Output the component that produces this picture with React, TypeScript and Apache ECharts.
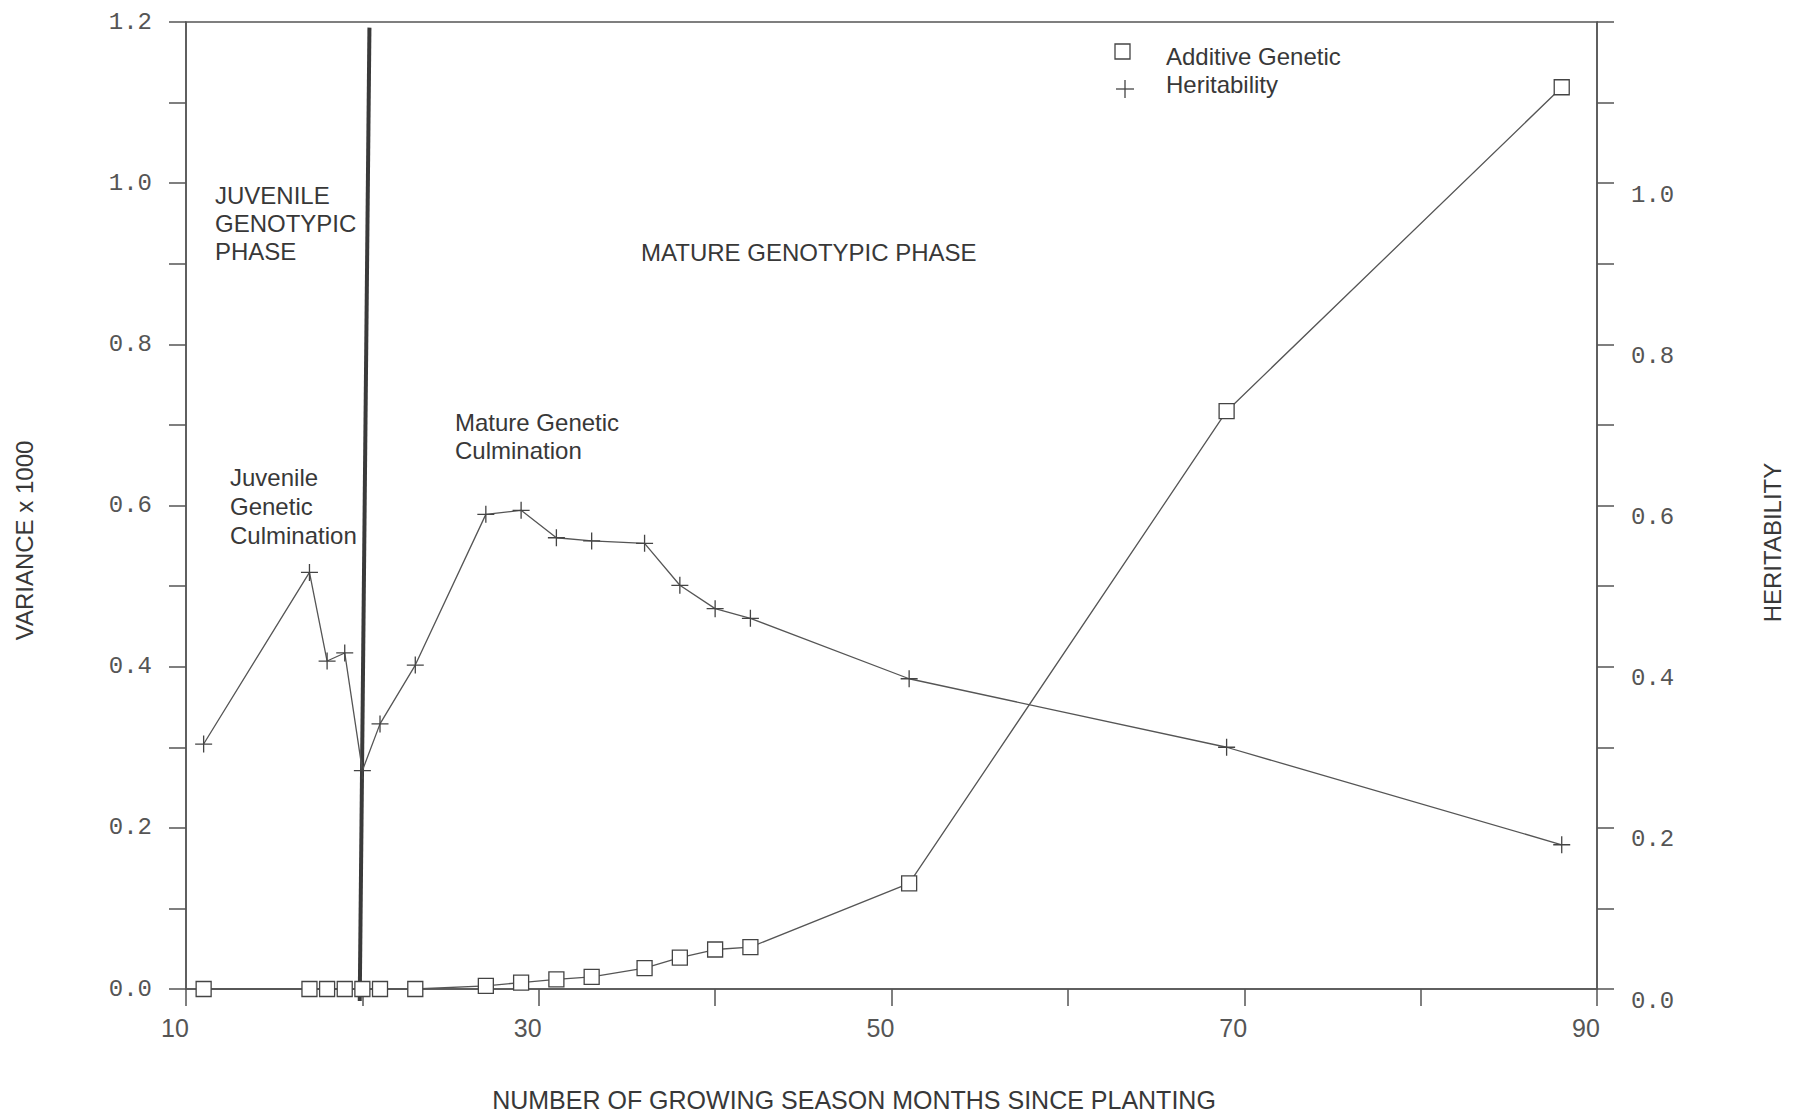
import React, { useEffect, useRef } from "react";
import * as echarts from "echarts";

// Growing season months since planting (x)
const months = [11, 17, 18, 19, 20, 21, 23, 27, 29, 31, 33, 36, 38, 40, 42, 51, 69, 88];
// Additive genetic variance x 1000 (left axis)
const additiveGenetic = [0, 0, 0, 0, 0, 0, 0, 0.004, 0.008, 0.012, 0.015, 0.026, 0.039, 0.049, 0.052, 0.131, 0.717, 1.119];
// Heritability (right axis)
const heritability = [0.304, 0.517, 0.407, 0.417, 0.271, 0.329, 0.402, 0.589, 0.594, 0.56, 0.556, 0.553, 0.501, 0.472, 0.46, 0.385, 0.3, 0.179];

const xLabelValues = [10, 30, 50, 70, 90];
const leftLabelValues = [0, 0.2, 0.4, 0.6, 0.8, 1.0, 1.2];
const rightLabelValues = [0, 0.2, 0.4, 0.6, 0.8, 1.0];

// Phase boundary (thick vertical line): top end, bottom end as [x, y]
const phaseBoundaryTop = [20.4, 1.193];
const phaseBoundaryBottom = [19.85, -0.015];

const seriesNames = ["Additive Genetic", "Heritability"];

const INK = "#383838";
const LINE = "#555";
const SANS = "Liberation Sans, Arial, sans-serif";
const MONO = "Liberation Mono, DejaVu Sans Mono, monospace";

const near = (arr: number[], v: number) => arr.some((a) => Math.abs(a - v) < 1e-6);

export default function App() {
  const ref = useRef<HTMLDivElement>(null);

  useEffect(() => {
    if (!ref.current) return;
    const chart = echarts.init(ref.current, null, { renderer: "svg" });

    const axisLineStyle = { color: LINE, width: 1.5 };

    const option: any = {
      animation: false,
      backgroundColor: "#ffffff",
      grid: {
        left: 186,
        right: 201,
        top: 22,
        bottom: 123,
        show: true,
        borderColor: LINE,
        borderWidth: 1.5,
        backgroundColor: "transparent",
      },
      xAxis: {
        type: "value",
        min: 10,
        max: 90,
        interval: 10,
        axisLine: { show: true, onZero: false, lineStyle: axisLineStyle },
        axisTick: { show: true, inside: false, length: 17, lineStyle: axisLineStyle },
        splitLine: { show: false },
        axisLabel: {
          margin: 26,
          fontSize: 25,
          fontFamily: SANS,
          color: LINE,
          padding: [0, 22, 0, 0],
          formatter: (v: number) => (near(xLabelValues, v) ? String(v) : ""),
        },
        name: "NUMBER OF GROWING SEASON MONTHS SINCE PLANTING",
        nameLocation: "middle",
        nameGap: 98,
        nameTextStyle: {
          fontSize: 25,
          fontFamily: SANS,
          color: INK,
          padding: [0, 75, 0, 0],
        },
      },
      yAxis: [
        {
          type: "value",
          min: 0,
          max: 1.2,
          interval: 0.1,
          position: "left",
          axisLine: { show: true, onZero: false, lineStyle: axisLineStyle },
          axisTick: { show: true, inside: false, length: 17, lineStyle: axisLineStyle },
          splitLine: { show: false },
          axisLabel: {
            margin: 34,
            fontSize: 24,
            fontFamily: MONO,
            color: LINE,
            formatter: (v: number) => (near(leftLabelValues, v) ? v.toFixed(1) : ""),
          },
          name: "VARIANCE x 1000",
          nameLocation: "middle",
          nameGap: 150,
          nameTextStyle: {
            fontSize: 24,
            fontFamily: SANS,
            color: INK,
            padding: [0, 70, 0, 0],
          },
        },
        {
          type: "value",
          min: 0,
          max: 1.2,
          interval: 0.1,
          position: "right",
          axisLine: { show: true, onZero: false, lineStyle: axisLineStyle },
          axisTick: { show: true, inside: false, length: 17, lineStyle: axisLineStyle },
          splitLine: { show: false },
          axisLabel: {
            margin: 34,
            fontSize: 24,
            fontFamily: MONO,
            color: LINE,
            verticalAlign: "top",
            formatter: (v: number) => (near(rightLabelValues, v) ? v.toFixed(1) : ""),
          },
          name: "HERITABILITY",
          nameLocation: "middle",
          nameGap: 163,
          nameTextStyle: {
            fontSize: 24,
            fontFamily: SANS,
            color: INK,
            padding: [0, 74, 0, 0],
          },
        },
      ],
      series: [
        {
          name: "phase boundary",
          type: "custom",
          coordinateSystem: "cartesian2d",
          xAxisIndex: 0,
          yAxisIndex: 0,
          clip: false,
          silent: true,
          z: 2,
          data: [[phaseBoundaryTop[0], phaseBoundaryTop[1], phaseBoundaryBottom[0], phaseBoundaryBottom[1]]],
          encode: { x: [0, 2], y: [1, 3] },
          renderItem: (_params: any, api: any) => {
            const p1 = api.coord([api.value(0), api.value(1)]);
            const p2 = api.coord([api.value(2), api.value(3)]);
            return {
              type: "line",
              shape: { x1: p1[0], y1: p1[1], x2: p2[0], y2: p2[1] },
              style: { stroke: "#3a3a3a", lineWidth: 4 },
            };
          },
        },
        {
          name: seriesNames[0],
          type: "line",
          yAxisIndex: 0,
          clip: false,
          data: months.map((m, i) => [m, additiveGenetic[i]]),
          symbol: "rect",
          symbolSize: 15,
          itemStyle: { color: "#ffffff", borderColor: "#444", borderWidth: 1.3 },
          lineStyle: { color: LINE, width: 1.3 },
          z: 3,
        },
        {
          name: seriesNames[1],
          type: "line",
          yAxisIndex: 1,
          clip: false,
          data: months.map((m, i) => [m, heritability[i]]),
          symbol: "path://M10,0L10,20M0,10L20,10",
          symbolSize: 17,
          itemStyle: { color: "none", borderColor: "#444", borderWidth: 1.3 },
          lineStyle: { color: LINE, width: 1.3 },
          z: 3,
        },
      ],
      graphic: [
        // legend
        {
          type: "rect",
          shape: { x: 1115, y: 44, width: 15, height: 15 },
          style: { fill: "none", stroke: "#444", lineWidth: 1.3 },
        },
        {
          type: "line",
          shape: { x1: 1125, y1: 80, x2: 1125, y2: 98 },
          style: { stroke: "#444", lineWidth: 1.3 },
        },
        {
          type: "line",
          shape: { x1: 1116, y1: 89, x2: 1134, y2: 89 },
          style: { stroke: "#444", lineWidth: 1.3 },
        },
        {
          type: "text",
          x: 1166,
          y: 56,
          style: { text: seriesNames[0], fontSize: 24, fontFamily: SANS, fill: INK, verticalAlign: "middle" },
        },
        {
          type: "text",
          x: 1166,
          y: 84,
          style: { text: seriesNames[1], fontSize: 24, fontFamily: SANS, fill: INK, verticalAlign: "middle" },
        },
        // annotations
        {
          type: "text",
          x: 215,
          y: 181,
          style: {
            text: "JUVENILE\nGENOTYPIC\nPHASE",
            fontSize: 24,
            lineHeight: 28,
            fontFamily: SANS,
            fill: INK,
          },
        },
        {
          type: "text",
          x: 641,
          y: 252,
          style: {
            text: "MATURE GENOTYPIC PHASE",
            fontSize: 24,
            fontFamily: SANS,
            fill: INK,
            verticalAlign: "middle",
          },
        },
        {
          type: "text",
          x: 455,
          y: 408,
          style: {
            text: "Mature Genetic\nCulmination",
            fontSize: 24,
            lineHeight: 28,
            fontFamily: SANS,
            fill: INK,
          },
        },
        {
          type: "text",
          x: 230,
          y: 463,
          style: {
            text: "Juvenile\nGenetic\nCulmination",
            fontSize: 24,
            lineHeight: 29,
            fontFamily: SANS,
            fill: INK,
          },
        },
      ],
    };

    chart.setOption(option);
    return () => chart.dispose();
  }, []);

  return (
    <div
      ref={ref}
      style={{ position: "absolute", left: 0, top: 0, width: 1798, height: 1117 }}
    />
  );
}
